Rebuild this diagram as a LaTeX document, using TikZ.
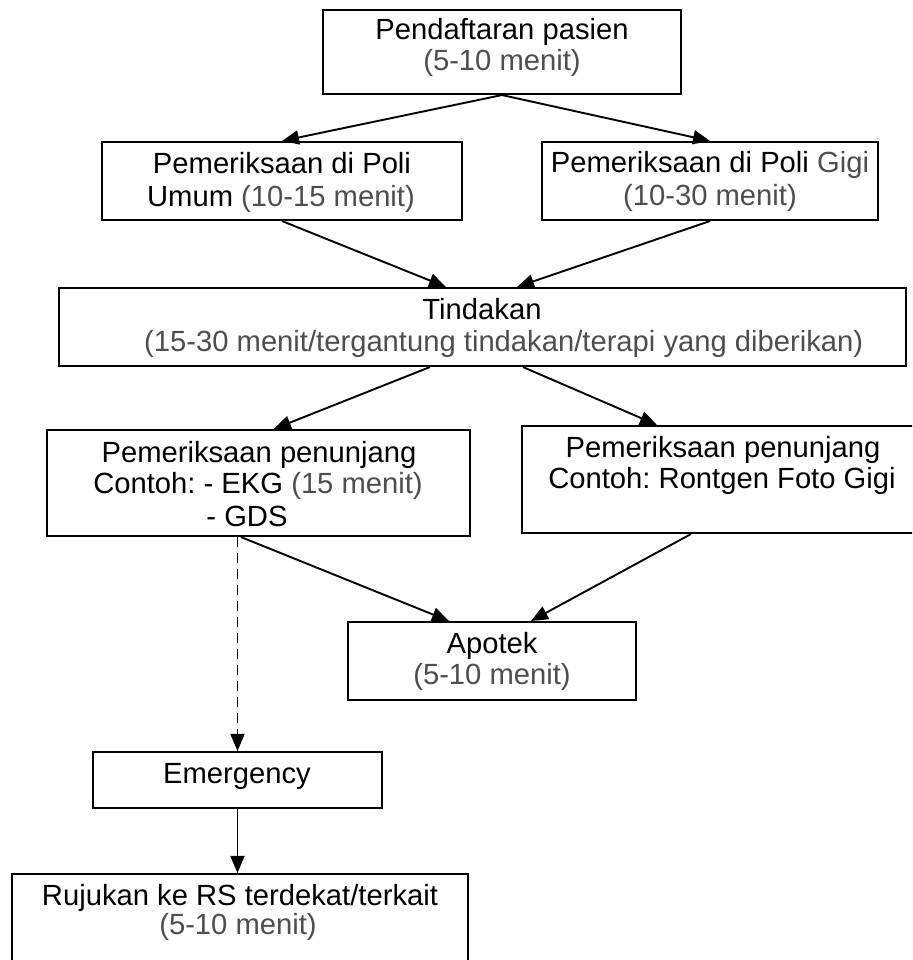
\documentclass[tikz,border=0pt]{standalone}
\usepackage{fontspec}
\setmainfont{Liberation Sans}
\usetikzlibrary{arrows.meta,calc}
\definecolor{timegray}{RGB}{78,78,78}
\frenchspacing
\begin{document}
\begin{tikzpicture}[x=1pt,y=-1pt,
  flowbox/.style={draw=black,line width=2.1pt,rectangle,inner sep=0pt,fill=white},
  txt/.style={anchor=base,inner sep=0pt,font=\fontsize{29.2}{32}\selectfont},
  tm/.style={txt,text=timegray},
  flow/.style={line width=1.9pt,-{Triangle[length=17pt,width=14pt]}},
  flowdash/.style={flow,dash pattern=on 10pt off 6pt}]
\clip (0,0) rectangle (912,960);
\fill[white] (0,0) rectangle (912,960);

% boxes
\node[flowbox,minimum width=358pt,minimum height=84pt]  (daftar) at (502,52) {};
\node[flowbox,minimum width=360pt,minimum height=78pt]  (umum)   at (282,181) {};
\node[flowbox,minimum width=336pt,minimum height=78pt]  (gigi)   at (710,181) {};
\node[flowbox,minimum width=847pt,minimum height=78pt]  (tindak) at (482.5,327) {};
\node[flowbox,minimum width=423pt,minimum height=106pt] (pjkiri) at (258.5,483) {};
\node[flowbox,minimum width=393pt,minimum height=107pt] (pjkanan) at (718.5,479.5) {};
\node[flowbox,minimum width=288pt,minimum height=78pt]  (apotek) at (492,661) {};
\node[flowbox,minimum width=289pt,minimum height=56pt]  (emerg)  at (237.5,780) {};
\node[flowbox,minimum width=456pt,minimum height=90pt]  (rujuk)  at (240,919) {};

% texts
\node[txt] (t1a) at (502,40) {Pendaftaran pasien};
\node[tm]  (t1b) at (502,71) {(5-10 menit)};
\node[txt] (t2a) at (282,174) {Pemeriksaan di Poli};
\node[txt] (t2b) at (281,206) {Umum \textcolor{timegray}{(10-15 menit)}};
\node[txt] (t3a) at (710,173) {Pemeriksaan di Poli \textcolor{timegray}{Gigi}};
\node[tm]  (t3b) at (710,205) {(10-30 menit)};
\node[txt] (t4a) at (482,319) {Tindakan};
\node[tm,anchor=base west] (t4b) at (144,351) {(15-30 menit/tergantung tindakan/terapi yang diberikan)};
\node[txt] (t5a) at (259,462) {Pemeriksaan penunjang};
\node[txt] (t5b) at (258,493) {Contoh: - EKG \textcolor{timegray}{(15 menit)}};
\node[txt] (t5c) at (247,526) {- GDS};
\node[txt] (t6a) at (723,457) {Pemeriksaan penunjang};
\node[txt] (t6b) at (722,488) {Contoh: Rontgen Foto Gigi};
\node[txt] (t7a) at (492,653) {Apotek};
\node[tm]  (t7b) at (492,684) {(5-10 menit)};
\node[txt] (t8a) at (237,783) {Emergency};
\node[txt] (t9a) at (240,905) {Rujukan ke RS terdekat/terkait};
\node[tm]  (t9b) at (238,934) {(5-10 menit)};

% connectors
\draw[flow] (daftar.south) -- (umum.north);
\draw[flow] (daftar.south) -- (gigi.north);
\draw[flow] (umum.south) -- ($(tindak.north west)+(388,0)$);
\draw[flow] (gigi.south) -- ($(tindak.north west)+(459,0)$);
\draw[flow] ($(tindak.south west)+(372,0)$) -- ($(pjkiri.north west)+(228,0)$);
\draw[flow] ($(tindak.south west)+(465,0)$) -- ($(pjkanan.north west)+(136,0)$);
\draw[flow] ($(pjkiri.south west)+(195,0)$) -- ($(apotek.north west)+(102,0)$);
\draw[flow] ($(pjkanan.south west)+(170,0)$) -- ($(apotek.north west)+(184,0)$);
\draw[flowdash] (emerg.north |- pjkiri.south) -- (emerg.north);
\draw[flow] (emerg.south) -- (emerg.south |- rujuk.north);
\end{tikzpicture}
\end{document}
